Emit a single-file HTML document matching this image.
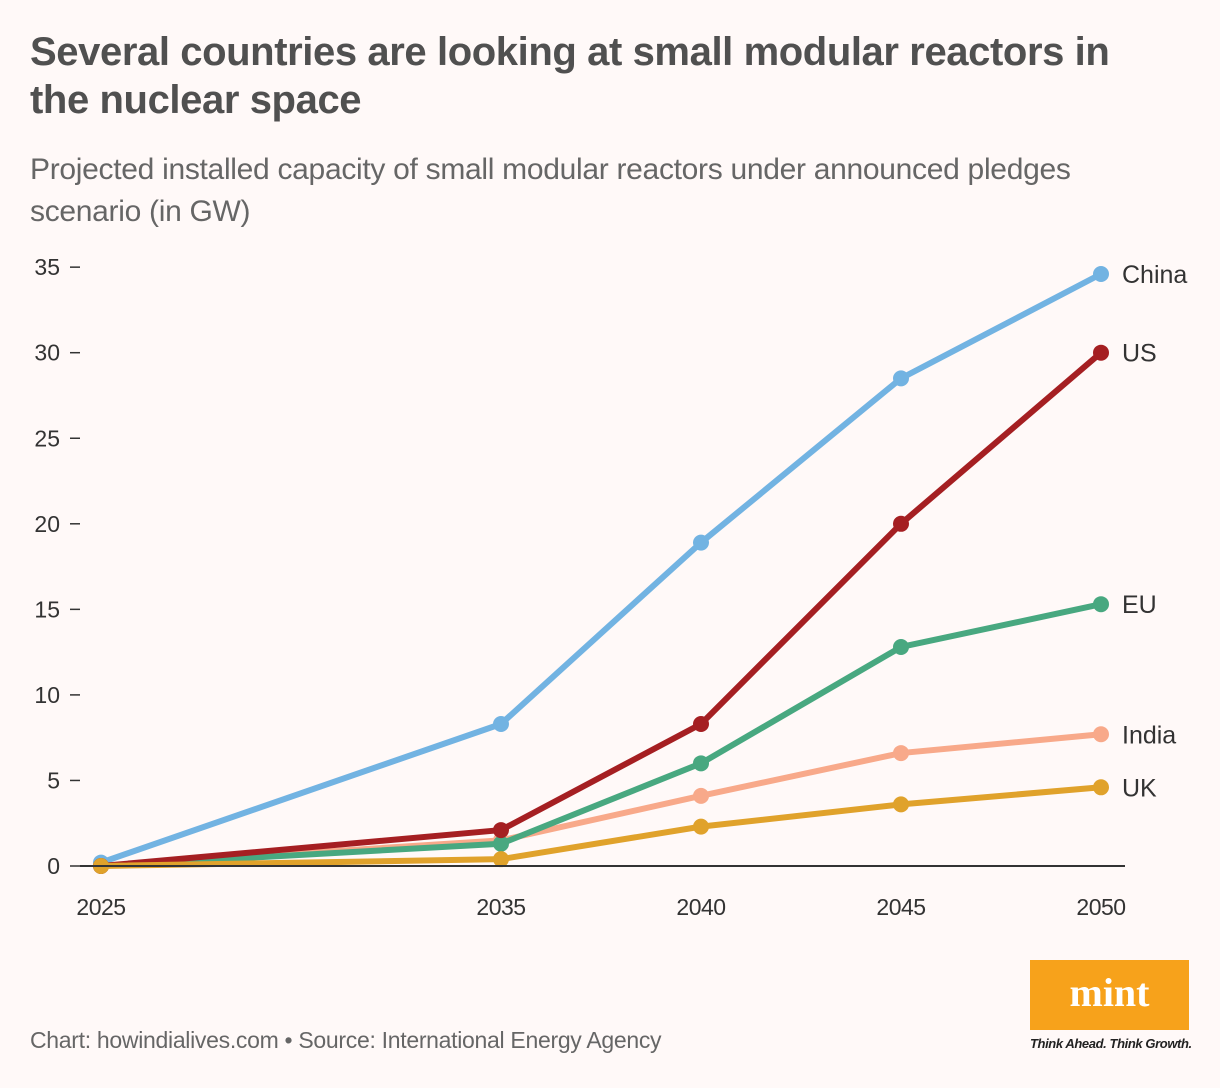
<!DOCTYPE html>
<html><head><meta charset="utf-8"><style>
body{margin:0;background:#fff9f8;font-family:"Liberation Sans",sans-serif;}
#wrap{position:relative;width:1220px;height:1088px;overflow:hidden;background:#fff9f8;}
h1{position:absolute;left:30px;top:28px;margin:0;font-size:40px;line-height:48px;color:#505050;font-weight:bold;letter-spacing:-0.4px;width:1100px;}
.sub{position:absolute;left:30px;top:149px;font-size:30px;line-height:42px;color:#666;width:1100px;letter-spacing:-0.3px}
.src{position:absolute;left:30px;top:1027px;font-size:23px;color:#666;letter-spacing:-0.3px}
</style></head><body><div id="wrap">
<h1>Several countries are looking at small modular reactors in the nuclear space</h1>
<div class="sub">Projected installed capacity of small modular reactors under announced pledges scenario (in GW)</div>
<svg id="chart" width="1220" height="1088" style="position:absolute;left:0;top:0"></svg>
<div class="src">Chart: howindialives.com • Source: International Energy Agency</div>
<div style="position:absolute;left:1030px;top:960px;width:159px;height:70px;background:#f7a21b;color:#fff;font:bold 40px 'Liberation Serif',serif;text-align:center;line-height:66px">mint</div>
<div style="position:absolute;left:1030px;top:1036px;font:italic bold 13px 'Liberation Sans',sans-serif;color:#222;letter-spacing:-0.4px">Think Ahead. Think Growth.</div>
<script>
const years=[2025,2035,2040,2045,2050];
const yTicks=[0,5,10,15,20,25,30,35];
const seriesNames=["China","India","EU","US","UK"];
const china=[0.2,8.3,18.9,28.5,34.6];
const india=[0,1.5,4.1,6.6,7.7];
const eu=[0,1.3,6.0,12.8,15.3];
const us=[0,2.1,8.3,20.0,30.0];
const uk=[0,0.4,2.3,3.6,4.6];
const colors={China:"#72b3e2",India:"#f8a98a",EU:"#48a880",US:"#a51f22",UK:"#e0a22b"};
const vals={China:china,India:india,EU:eu,US:us,UK:uk};
const svg=document.getElementById('chart');const NS="http://www.w3.org/2000/svg";
const x=y=>101+(y-2025)*40;const yv=v=>866-v*17.11;
function mk(t,a){const e=document.createElementNS(NS,t);for(const k in a)e.setAttribute(k,a[k]);svg.appendChild(e);return e;}
yTicks.forEach(t=>{const l=mk('line',{x1:70,x2:80,y1:yv(t),y2:yv(t),stroke:'#333','stroke-width':1.5});


const tx=mk('text',{x:60,y:yv(t)+8,'text-anchor':'end','font-size':23,fill:'#333'});tx.textContent=t;

});
years.forEach(y=>{const tx=mk('text',{x:x(y),y:915,'text-anchor':'middle','font-size':23,fill:'#333','letter-spacing':-0.5});tx.textContent=y;

});
seriesNames.forEach(n=>{const d=vals[n];
const p=mk('polyline',{points:d.map((v,i)=>x(years[i])+','+yv(v)).join(' '),fill:'none',stroke:colors[n],'stroke-width':6,'stroke-linejoin':'round'});


d.forEach((v,i)=>{const c=mk('circle',{cx:x(years[i]),cy:yv(v),r:8,fill:colors[n]});

});
const lb=mk('text',{x:1122,y:yv(d[4])+9,'font-size':25,fill:'#333'});lb.textContent=n;

});
const ax=mk('line',{x1:80,x2:1125,y1:866,y2:866,stroke:'#333','stroke-width':2});


</script></div></body></html>
